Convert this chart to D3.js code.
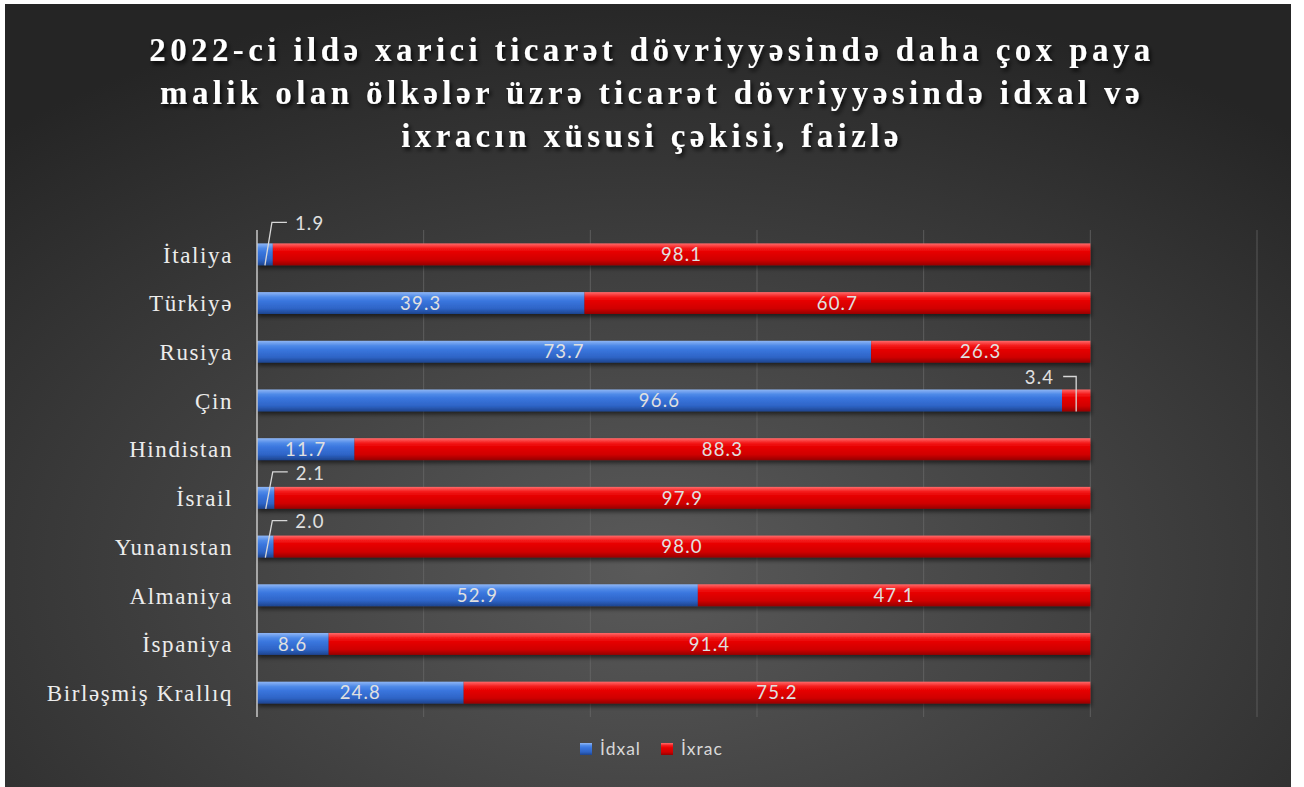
<!DOCTYPE html>
<html><head><meta charset="utf-8">
<script src="https://cdn.jsdelivr.net/npm/d3@7"></script>
<style>html,body{margin:0;padding:0;background:#fff;}svg{display:block;}</style>
</head><body>
<svg id="chart" width="1304" height="787"></svg>
<script>
const categories = ["İtaliya","Türkiyə","Rusiya","Çin","Hindistan","İsrail","Yunanıstan","Almaniya","İspaniya","Birləşmiş Krallıq"];
const idxal = [1.9, 39.3, 73.7, 96.6, 11.7, 2.1, 2.0, 52.9, 8.6, 24.8];
const ixrac = [98.1, 60.7, 26.3, 3.4, 88.3, 97.9, 98.0, 47.1, 91.4, 75.2];
const seriesNames = ["İdxal", "İxrac"];
const xTicks = [0, 20, 40, 60, 80, 100, 120];
const titleLines = ["2022-ci ildə xarici ticarət dövriyyəsində daha çox paya",
                    "malik olan ölkələr üzrə ticarət dövriyyəsində idxal və",
                    "ixracın xüsusi çəkisi, faizlə"];

const svg = d3.select("#chart");
const defs = svg.append("defs");

const bg = defs.append("radialGradient").attr("id","bg").attr("cx","50%").attr("cy","72%").attr("r","75%");
bg.append("stop").attr("offset","0%").attr("stop-color","#5a5a5a");
bg.append("stop").attr("offset","100%").attr("stop-color","#252525");

function barGrad(id, stops){
  const g = defs.append("linearGradient").attr("id",id).attr("x1",0).attr("y1",0).attr("x2",0).attr("y2",1);
  stops.forEach(s=>g.append("stop").attr("offset",s[0]).attr("stop-color",s[1]));
}
barGrad("gBlue", [["0%","#8fb6f5"],["22%","#4f8ae8"],["40%","#3a76de"],["75%","#2e64c6"],["100%","#1d448e"]]);
barGrad("gRed",  [["0%","#ff6a6a"],["22%","#f41a1a"],["40%","#e60000"],["75%","#d00000"],["100%","#960000"]]);

const sh = defs.append("filter").attr("id","shadow").attr("x","-5%").attr("y","-30%").attr("width","110%").attr("height","180%");
sh.append("feDropShadow").attr("dx",1).attr("dy",3).attr("stdDeviation",2).attr("flood-color","#000").attr("flood-opacity",0.55);
const tsh = defs.append("filter").attr("id","tshadow").attr("x","-5%").attr("y","-30%").attr("width","110%").attr("height","180%");
tsh.append("feDropShadow").attr("dx",2).attr("dy",3).attr("stdDeviation",2).attr("flood-color","#000").attr("flood-opacity",0.8);

svg.append("rect").attr("x",5).attr("y",4).attr("width",1286).attr("height",783).attr("fill","url(#bg)");

// title
svg.append("g").attr("filter","url(#tshadow)")
  .selectAll("text").data(titleLines).join("text")
  .attr("x", 652).attr("y",(d,i)=>61+i*43)
  .attr("text-anchor","middle")
  .attr("font-family","'Liberation Serif','Times New Roman',serif")
  .attr("font-weight","bold").attr("font-size",33)
  .attr("letter-spacing",4.4)
  .attr("fill","#ffffff").text(d=>d);

const x = d3.scaleLinear().domain([0,120]).range([257,1257]);
const y = d3.scaleBand().domain(categories).range([230,717]).paddingInner(0.55).paddingOuter(0.275);

// grid
svg.append("g").selectAll("line").data(xTicks.filter(t=>t>0)).join("line")
  .attr("x1",d=>x(d)).attr("x2",d=>x(d)).attr("y1",230).attr("y2",717)
  .attr("stroke","#6a6a6a").attr("stroke-width",1).attr("opacity",0.7);

// y axis
const yAxis = d3.axisLeft(y).tickSize(0).tickPadding(24);
const ya = svg.append("g").attr("transform",`translate(${x(0)},0)`).call(yAxis);
ya.select(".domain").remove();
ya.selectAll("text").attr("font-family","'Liberation Serif','Times New Roman',serif")
  .attr("font-size",23).attr("letter-spacing",1.6).attr("fill","#ececec").attr("dy","0.36em");

const rows = categories.map((c,i)=>({c, a:idxal[i], b:ixrac[i], i}));
const gBars = svg.append("g").attr("filter","url(#shadow)");
gBars.selectAll("rect.a").data(rows).join("rect").attr("class","a")
  .attr("x",x(0)).attr("y",d=>y(d.c)).attr("width",d=>x(d.a)-x(0)).attr("height",y.bandwidth())
  .attr("fill","url(#gBlue)");
gBars.selectAll("rect.b").data(rows).join("rect").attr("class","b")
  .attr("x",d=>x(d.a)).attr("y",d=>y(d.c)).attr("width",d=>x(d.a+d.b)-x(d.a)).attr("height",y.bandwidth())
  .attr("fill","url(#gRed)");

// axis line at 0
svg.append("line").attr("x1",x(0)).attr("x2",x(0)).attr("y1",230).attr("y2",717)
  .attr("stroke","#c8c8c8").attr("stroke-width",1.5);

const labelFont = "Lato, 'Open Sans', sans-serif";
const fmt = d3.format(".1f");
const inside = [];
const callouts = [];
rows.forEach(d=>{
  if (d.a >= 5) inside.push({x:(x(0)+x(d.a))/2, y:y(d.c)+y.bandwidth()/2, v:d.a});
  else callouts.push({side:"right", cx:(x(0)+x(d.a))/2, r:d, v:d.a});
  if (d.b >= 5) inside.push({x:(x(d.a)+x(d.a+d.b))/2, y:y(d.c)+y.bandwidth()/2, v:d.b});
  else callouts.push({side:"left", cx:(x(d.a)+x(d.a+d.b))/2, r:d, v:d.b});
});
svg.append("g").selectAll("text").data(inside).join("text")
  .attr("x",d=>d.x).attr("y",d=>d.y).attr("dy","0.36em").attr("text-anchor","middle")
  .attr("font-family",labelFont).attr("font-size",18.5).attr("letter-spacing",1.2)
  .attr("fill","#e0e0e0").text(d=>fmt(d.v));

const cg = svg.append("g");
callouts.forEach(d=>{
  const top = y(d.r.c), bot = top + y.bandwidth();
  if (d.side === "right") {
    const hy = d.r.i === 0 ? top - 21 : top - 15;
    const p = [[d.cx, bot],[d.cx+7, hy],[d.cx+22, hy]];
    cg.append("path").attr("d", d3.line()(p)).attr("fill","none").attr("stroke","#d8d8d8").attr("stroke-width",1.3);
    cg.append("text").attr("x",d.cx+30).attr("y",hy+1).attr("dy","0.36em")
      .attr("font-family",labelFont).attr("font-size",18.5).attr("letter-spacing",1.2)
      .attr("fill","#e0e0e0").text(fmt(d.v));
  } else {
    const hy = top - 13;
    const p = [[d.cx-13, hy],[d.cx, hy],[d.cx, bot]];
    cg.append("path").attr("d", d3.line()(p)).attr("fill","none").attr("stroke","#d8d8d8").attr("stroke-width",1.3);
    cg.append("text").attr("x",d.cx-22).attr("y",hy+1).attr("dy","0.36em").attr("text-anchor","end")
      .attr("font-family",labelFont).attr("font-size",18.5).attr("letter-spacing",1.2)
      .attr("fill","#e0e0e0").text(fmt(d.v));
  }
});

// legend
const lg = svg.append("g").attr("transform","translate(580,749)");
const lItems = lg.selectAll("g").data(seriesNames).join("g").attr("transform",(d,i)=>`translate(${i*81},0)`);
lItems.append("rect").attr("x",0).attr("y",-6).attr("width",12).attr("height",12)
  .attr("fill",(d,i)=>i===0?"url(#gBlue)":"url(#gRed)");
lItems.append("text").attr("x",20).attr("y",0).attr("dy","0.36em")
  .attr("font-family",labelFont).attr("font-size",17.5).attr("letter-spacing",1)
  .attr("fill","#d8d8d8").text(d=>d);
</script>
</body></html>
